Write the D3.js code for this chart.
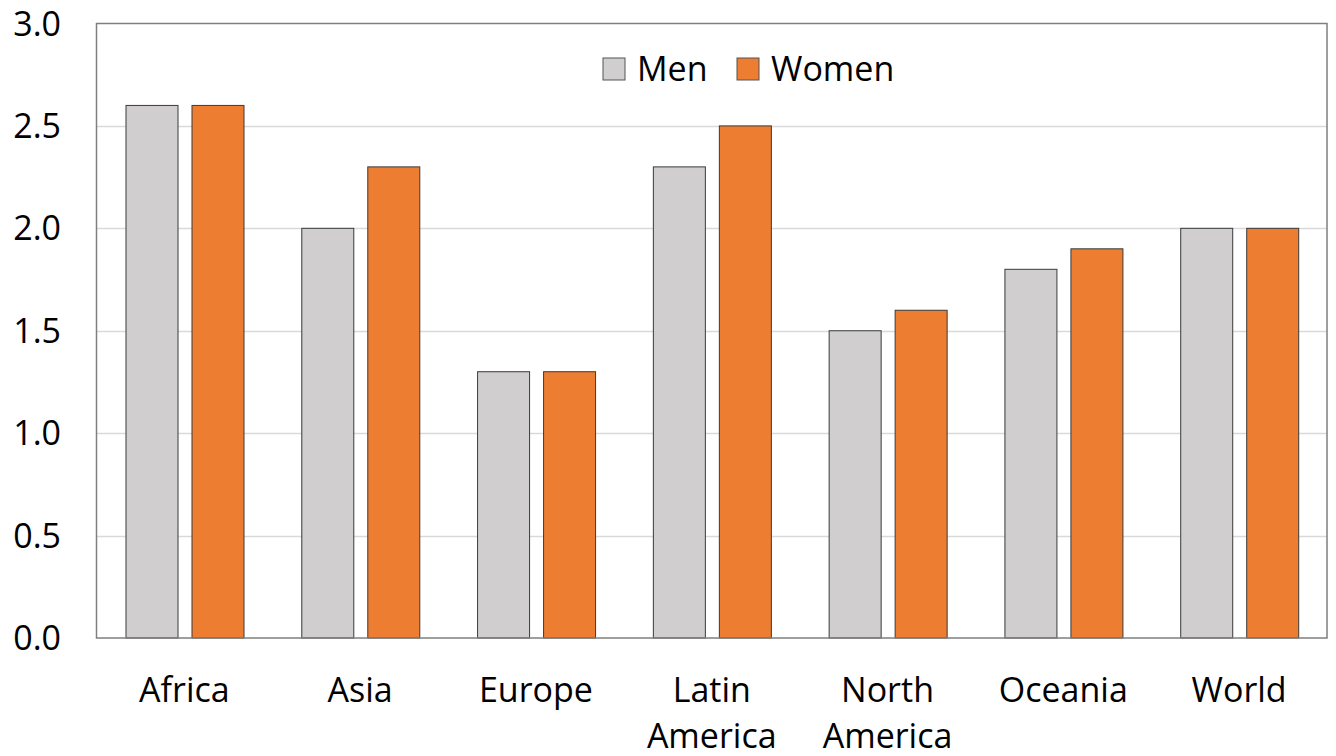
<!DOCTYPE html>
<html>
<head>
<meta charset="utf-8">
<script src="https://cdn.jsdelivr.net/npm/d3@7"></script>
<style>
  body { margin: 0; background: #fff; }
  text { font-family: "Open Sans", "Noto Sans", sans-serif; fill: #000; }
</style>
</head>
<body>
<svg id="chart" width="1336" height="756"></svg>
<script>
// values
var regions = [["Africa"], ["Asia"], ["Europe"], ["Latin", "America"], ["North", "America"], ["Oceania"], ["World"]];
var men = [2.6, 2.0, 1.3, 2.3, 1.5, 1.8, 2.0];
var women = [2.6, 2.3, 1.3, 2.5, 1.6, 1.9, 2.0];
var yTicks = [0, 0.5, 1.0, 1.5, 2.0, 2.5, 3.0];
var seriesNames = ["Men", "Women"];
var colors = ["#d0cece", "#ed7d31"];

var svg = d3.select('#chart');
var plotLeft = 96.5, plotRight = 1327, plotTop = 23.5, plotBottom = 638;

var keys = regions.map(function (r) { return r.join(' '); });
var x = d3.scaleBand().domain(keys).range([plotLeft, plotRight]).paddingInner(0).paddingOuter(0);
var y = d3.scaleLinear().domain([0, 3]).range([plotBottom, plotTop]);
var inner = d3.scaleBand().domain(seriesNames).range([29.5, 147.5]).paddingInner(0.212);

// gridlines
svg.append('g').selectAll('line')
    .data(yTicks.filter(function (d) { return d > 0 && d < 3; }))
    .enter().append('line')
    .attr('x1', plotLeft).attr('x2', plotRight)
    .attr('y1', function (d) { return Math.round(y(d)) + 0.5; })
    .attr('y2', function (d) { return Math.round(y(d)) + 0.5; })
    .style('stroke', '#d9d9d9').style('stroke-width', 1.5);

// bars
var series = [men, women];
series.forEach(function (vals, s) {
    svg.append('g').selectAll('rect')
        .data(vals)
        .enter().append('rect')
        .attr('x', function (d, i) { return x(keys[i]) + inner(seriesNames[s]); })
        .attr('y', function (d) { return y(d); })
        .attr('width', inner.bandwidth())
        .attr('height', function (d) { return plotBottom - y(d); })
        .style('fill', colors[s])
        .style('stroke', '#3a3a3a')
        .style('stroke-width', 1);
});

// frame
svg.append('rect')
    .attr('x', plotLeft).attr('y', plotTop)
    .attr('width', plotRight - plotLeft).attr('height', plotBottom - plotTop)
    .style('fill', 'none').style('stroke', '#7f7f7f').style('stroke-width', 1.5);

// y tick labels
svg.append('g').selectAll('text')
    .data(yTicks)
    .enter().append('text')
    .attr('x', 61)
    .attr('y', function (d) { return y(d) + 12; })
    .attr('text-anchor', 'end')
    .style('font-size', '34px')
    .text(function (d) { return d3.format('.1f')(d); });

// category labels
var cats = svg.append('g').selectAll('text')
    .data(regions)
    .enter().append('text')
    .attr('x', function (d, i) { return x(keys[i]) + x.bandwidth() / 2; })
    .attr('y', 702)
    .attr('text-anchor', 'middle')
    .style('font-size', '34px');
cats.selectAll('tspan')
    .data(function (d) { return d; })
    .enter().append('tspan')
    .attr('x', function () { return d3.select(this.parentNode).attr('x'); })
    .attr('dy', function (d, i) { return i === 0 ? 0 : 46; })
    .text(function (d) { return d; });

// legend
var legendX = [603, 737];
seriesNames.forEach(function (name, s) {
    svg.append('rect')
        .attr('x', legendX[s]).attr('y', 58)
        .attr('width', 22).attr('height', 22)
        .style('fill', colors[s]).style('stroke', '#555').style('stroke-width', 1);
    svg.append('text')
        .attr('x', legendX[s] + 34).attr('y', 81)
        .style('font-size', '34px')
        .text(name);
});
</script>
</body>
</html>
